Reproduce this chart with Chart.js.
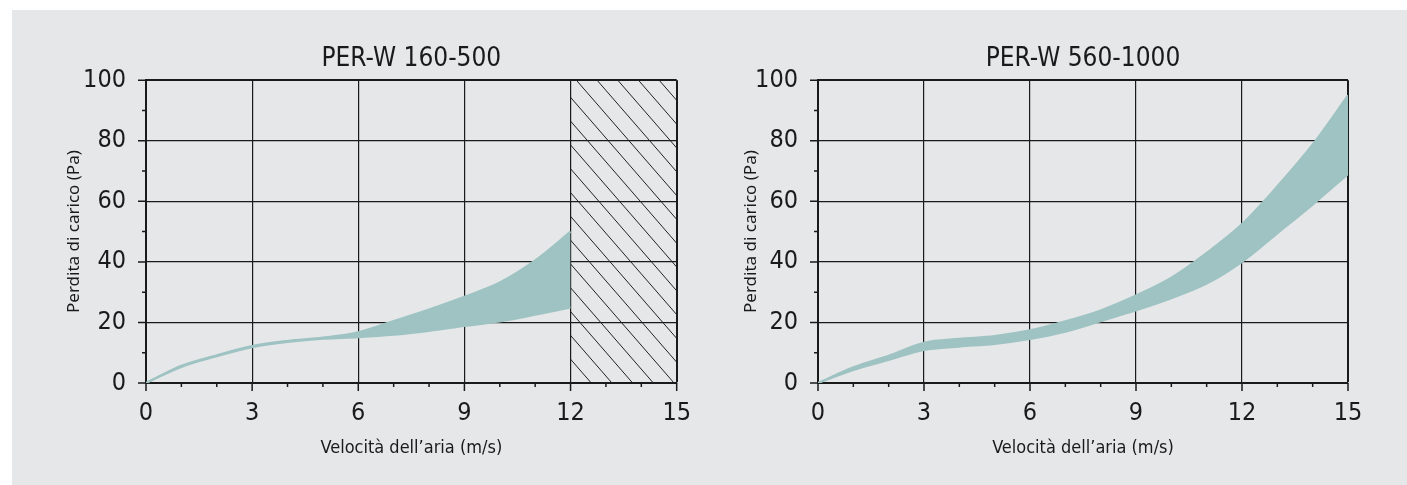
<!DOCTYPE html>
<html>
<head>
<meta charset="utf-8">
<script src="https://cdn.jsdelivr.net/npm/chart.js@4.4.0/dist/chart.umd.min.js"></script>
<style>
  body { margin: 0; background: #fff; width: 1407px; height: 485px; overflow: hidden; position: relative; }
  #bg { position: absolute; left: 12px; top: 10px; right: 0; bottom: 0; background: #e6e7e9; }
  canvas { position: absolute; top: 10px; }
</style>
</head>
<body>
<div id="bg"></div>
<canvas id="c1" width="694" height="475" style="left:12px"></canvas>
<canvas id="c2" width="707" height="475" style="left:700px"></canvas>
<script>
// velocità (m/s)
const xLeft = [0, 1, 2, 3, 4, 5, 6, 7, 8, 9, 10, 11, 12];
const xRight = [0, 1, 2, 3, 4, 5, 6, 7, 8, 9, 10, 11, 12, 13, 14, 15];

// PER-W 160-500 (Pa)
const leftUpper = [0, 5.7, 9.2, 12.2, 13.9, 15.0, 16.8, 20.5, 24.3, 28.5, 33.2, 40.5, 50];
const leftLower = [0, 5.3, 8.8, 11.8, 13.5, 14.6, 15.1, 15.9, 17.2, 18.8, 20.3, 22.5, 24.9];

// PER-W 560-1000 (Pa)
const rightUpper = [0, 5.2, 9.0, 13.3, 14.6, 15.5, 17.4, 20.4, 24.0, 28.9, 34.8, 43.0, 52.5, 65.0, 78.8, 95];
const rightLower = [0, 4.3, 7.6, 10.9, 12.0, 12.9, 14.5, 16.9, 20.4, 24.0, 28.0, 32.8, 40.0, 49.4, 58.9, 69];

const xLabelTicks = [0, 3, 6, 9, 12, 15];
const yLabelTicks = [0, 20, 40, 60, 80, 100];

const bandColor = "rgb(158, 195, 194)";
const narrow = "'Liberation Sans Narrow', 'DejaVu Sans Condensed', sans-serif";

// tick marks outside the plot (major longer, minor shorter)
const tickMarks = {
  id: "tickMarks",
  afterDraw(chart) {
    const ctx = chart.ctx;
    const a = chart.chartArea;
    const xs = chart.scales.x, ys = chart.scales.y;
    ctx.save();
    ctx.strokeStyle = "#1a1a1a";
    ctx.lineWidth = 1.5;
    ctx.beginPath();
    for (let v = 0; v <= 15; v++) {
      const px = xs.getPixelForValue(v);
      const len = xLabelTicks.includes(v) ? 8 : 4;
      ctx.moveTo(px, a.bottom);
      ctx.lineTo(px, a.bottom + len);
    }
    for (let v = 0; v <= 100; v += 10) {
      const py = ys.getPixelForValue(v);
      const len = yLabelTicks.includes(v) ? 8 : 4;
      ctx.moveTo(a.left, py);
      ctx.lineTo(a.left - len, py);
    }
    ctx.stroke();
    ctx.restore();
  }
};

// hatched area (velocità non ammessa)
const hatch = {
  id: "hatch",
  beforeDatasetsDraw(chart, args, opts) {
    if (opts.from == null) return;
    const ctx = chart.ctx;
    const a = chart.chartArea;
    const x0 = chart.scales.x.getPixelForValue(opts.from);
    const x1 = chart.scales.x.getPixelForValue(opts.to);
    const h = a.bottom - a.top;
    const run = h / 1.15;
    ctx.save();
    ctx.beginPath();
    ctx.rect(x0, a.top, x1 - x0, h);
    ctx.clip();
    ctx.strokeStyle = "#222";
    ctx.lineWidth = 1;
    ctx.beginPath();
    for (let s = x0 - run; s < x1; s += 20.7) {
      ctx.moveTo(s, a.top);
      ctx.lineTo(s + run, a.bottom);
    }
    ctx.stroke();
    ctx.restore();
  }
};

function makeChart(id, title, xs, lower, upper, yWidth, padRight, yTitlePad, hatchRange) {
  const lowerPts = xs.map((x, i) => ({ x: x, y: lower[i] }));
  const upperPts = xs.map((x, i) => ({ x: x, y: upper[i] }));
  return new Chart(document.getElementById(id), {
    type: "line",
    data: {
      datasets: [
        {
          data: lowerPts,
          borderColor: bandColor,
          borderWidth: 2,
          pointRadius: 0,
          fill: false,
          cubicInterpolationMode: "monotone"
        },
        {
          data: upperPts,
          borderColor: bandColor,
          backgroundColor: bandColor,
          borderWidth: 2,
          pointRadius: 0,
          fill: "-1",
          cubicInterpolationMode: "monotone"
        }
      ]
    },
    options: {
      responsive: false,
      animation: false,
      events: [],
      layout: { padding: { left: 0, right: padRight, top: 0, bottom: 0 } },
      plugins: {
        legend: { display: false },
        tooltip: { enabled: false },
        title: {
          display: true,
          fullSize: false,
          text: title,
          color: "#1a1a1a",
          font: { family: narrow, size: 26, weight: "normal" },
          padding: { top: 34, bottom: 5 }
        },
        hatch: hatchRange
      },
      scales: {
        x: {
          type: "linear",
          min: 0,
          max: 15,
          afterFit(scale) { scale.height = 102; },
          ticks: {
            stepSize: 1,
            autoSkip: false,
            maxRotation: 0,
            padding: 15,
            color: "#1a1a1a",
            font: { family: narrow, size: 25 },
            callback: (v) => (xLabelTicks.includes(v) ? String(v) : "")
          },
          grid: {
            drawTicks: false,
            color: (c) => (xLabelTicks.includes(c.tick.value) ? "#1a1a1a" : "transparent"),
            lineWidth: (c) => (c.tick.value === 15 ? 2 : 1.2)
          },
          border: { display: true, color: "#1a1a1a", width: 2 },
          title: {
            display: true,
            text: "Velocità dell’aria (m/s)",
            color: "#1a1a1a",
            font: { family: narrow, size: 18 },
            padding: { top: 0, bottom: 26 }
          }
        },
        y: {
          min: 0,
          max: 100,
          afterFit(scale) { scale.width = yWidth; },
          ticks: {
            stepSize: 10,
            autoSkip: false,
            padding: 20,
            color: "#1a1a1a",
            font: { family: narrow, size: 25 },
            callback: (v) => (yLabelTicks.includes(v) ? String(v) : "")
          },
          grid: {
            drawTicks: false,
            color: (c) => (yLabelTicks.includes(c.tick.value) ? "#1a1a1a" : "transparent"),
            lineWidth: (c) => (c.tick.value === 100 ? 2 : 1.2)
          },
          border: { display: true, color: "#1a1a1a", width: 2 },
          title: {
            display: true,
            text: "Perdita di carico (Pa)",
            color: "#1a1a1a",
            font: { family: "'Noto Sans', sans-serif", size: 17 },
            padding: { top: yTitlePad, bottom: 0 }
          }
        }
      }
    },
    plugins: [hatch, tickMarks]
  });
}

makeChart("c1", "PER-W 160-500", xLeft, leftLower, leftUpper, 134, 0, 52, { from: 12, to: 15 });
makeChart("c2", "PER-W 560-1000", xRight, rightLower, rightUpper, 118, 59, 41, {});
</script>
</body>
</html>
